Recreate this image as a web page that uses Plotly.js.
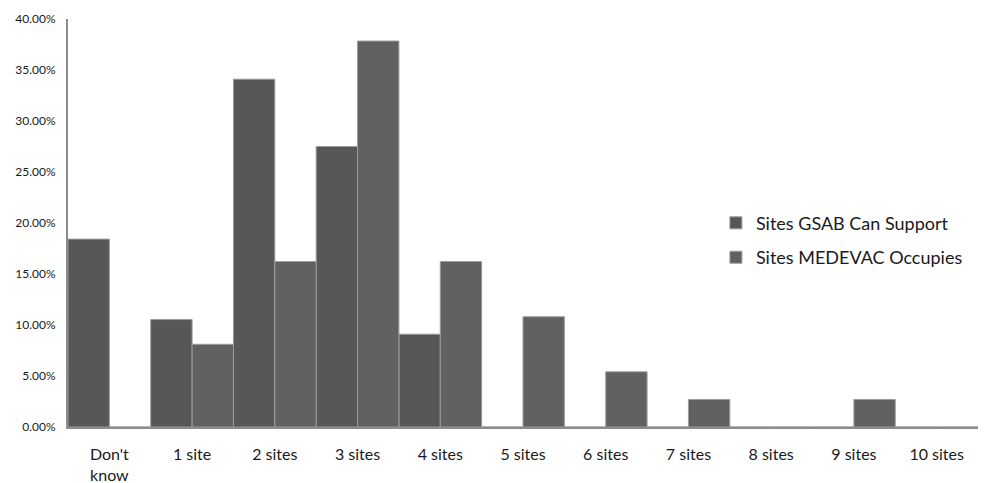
<!DOCTYPE html>
<html>
<head>
<meta charset="utf-8">
<script src="https://cdn.plot.ly/plotly-3.0.1.min.js"></script>
<style>
  html, body { margin: 0; padding: 0; background: #ffffff; }
  #chart { width: 996px; height: 483px; }
</style>
</head>
<body>
<div id="chart"></div>
<script>
// Number of landing sites, share of respondents (%)
const categories = ["Don't<br>know", "1 site", "2 sites", "3 sites", "4 sites", "5 sites",
                    "6 sites", "7 sites", "8 sites", "9 sites", "10 sites"];
const gsabSupport = [18.42, 10.53, 34.1, 27.5, 9.1, 0, 0, 0, 0, 0, 0];
const medevacOccupies = [0, 8.11, 16.22, 37.84, 16.22, 10.81, 5.41, 2.70, 0, 2.70, 0];
const seriesNames = ["Sites GSAB Can Support", "Sites MEDEVAC Occupies"];
const yTicks = [0, 5, 10, 15, 20, 25, 30, 35, 40];
const yTickText = yTicks.map(v => v.toFixed(2) + '%');

const font = "Lato, 'Liberation Sans', sans-serif";

const traces = [
  {
    type: 'bar', name: seriesNames[0], x: categories, y: gsabSupport,
    legendgroup: 'a',
    marker: { color: '#575757', line: { color: '#9c9c9c', width: 1 } },
    hoverinfo: 'skip'
  },
  {
    type: 'bar', name: seriesNames[1], x: categories, y: medevacOccupies,
    legendgroup: 'b',
    marker: { color: '#616161', line: { color: '#9c9c9c', width: 1 } },
    hoverinfo: 'skip'
  }
];

const layout = {
  width: 996, height: 483,
  margin: { l: 68, r: 18, t: 19, b: 56 },
  paper_bgcolor: '#ffffff', plot_bgcolor: '#ffffff',
  barmode: 'group', bargap: 0, bargroupgap: 0,
  font: { family: font, color: '#1a1a1a' },
  showlegend: true,
  legend: {
    x: 0.712, y: 0.545, xanchor: 'left', yanchor: 'top',
    font: { family: font, size: 18, color: '#1a1a1a' },
    bgcolor: 'rgba(0,0,0,0)',
    traceorder: 'grouped', tracegroupgap: 8,
    itemwidth: 30
  },
  xaxis: {
    type: 'category',
    showline: true, linecolor: '#8c8c8c', linewidth: 2,
    ticks: '', showgrid: false, zeroline: false,
    tickfont: { family: font, size: 16, color: '#1a1a1a' },
    ticklabelstandoff: 12
  },
  yaxis: {
    range: [0, 40],
    tickvals: yTicks,
    ticktext: yTickText,
    showline: true, linecolor: '#8c8c8c', linewidth: 2,
    ticks: '', showgrid: false, zeroline: false,
    tickfont: { family: font, size: 12, color: '#1a1a1a' },
    ticklabelstandoff: 8
  }
};

Plotly.newPlot('chart', traces, layout, { displayModeBar: false, staticPlot: true });
</script>
</body>
</html>
